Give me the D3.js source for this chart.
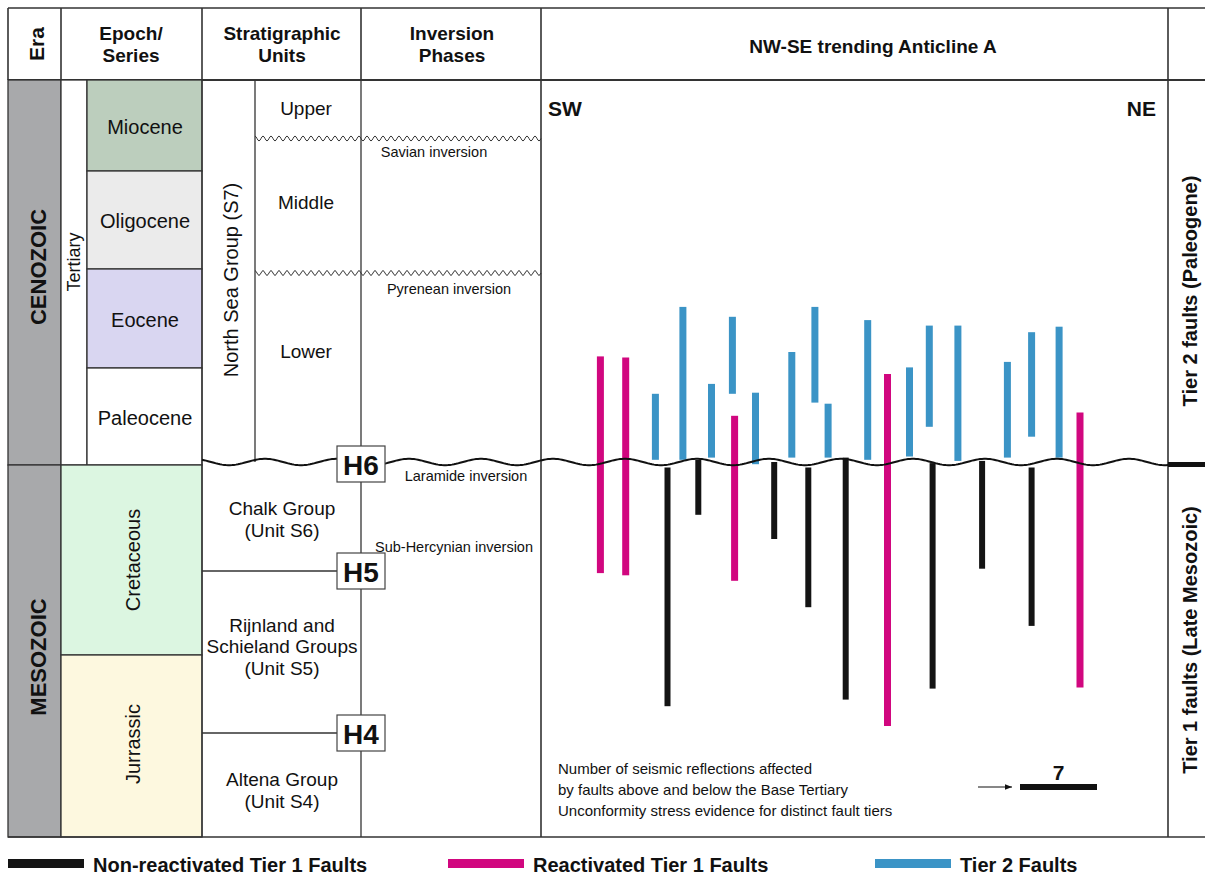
<!DOCTYPE html>
<html>
<head>
<meta charset="utf-8">
<script src="https://cdn.jsdelivr.net/npm/d3@7"></script>
<style>
  body { margin: 0; background: #fff; }
  text { font-family: Arial, "Liberation Sans", sans-serif; fill: #111; }
</style>
</head>
<body>
<div id="chart"></div>
<script>
// fault positions along the section (trace units) and extent in seismic
// reflections above (+) / below (-) the Base Tertiary Unconformity
var reactivated_faults = [
    { pos: 5.4, top: 9.6, base: -10.1 },
    { pos: 7.7, top: 9.5, base: -10.3 },
    { pos: 17.6, top: 4.2, base: -10.8 },
    { pos: 31.5, top: 8.0, base: -24.0 },
    { pos: 49.0, top: 4.5, base: -20.5 }
];
var tier2_faults = [
    { pos: 10.4, top: 6.2, base: 0.2 },
    { pos: 12.9, top: 14.1, base: 0.2 },
    { pos: 15.5, top: 7.1, base: 0.4 },
    { pos: 17.4, top: 13.2, base: 6.2 },
    { pos: 19.5, top: 6.3, base: -0.2 },
    { pos: 22.8, top: 10.0, base: 0.4 },
    { pos: 24.9, top: 14.1, base: 5.4 },
    { pos: 26.1, top: 5.3, base: 0.4 },
    { pos: 29.7, top: 12.9, base: 0.2 },
    { pos: 33.5, top: 8.6, base: 0.5 },
    { pos: 35.3, top: 12.4, base: 3.2 },
    { pos: 37.9, top: 12.4, base: 0.1 },
    { pos: 42.4, top: 9.1, base: 0.4 },
    { pos: 44.6, top: 11.8, base: 2.3 },
    { pos: 47.1, top: 12.3, base: 0.4 }
];
var nonreactivated_faults = [
    { pos: 11.5, top: -0.5, base: -22.2 },
    { pos: 14.3, top: 0.2, base: -4.8 },
    { pos: 21.2, top: 0.0, base: -7.0 },
    { pos: 24.3, top: -0.5, base: -13.2 },
    { pos: 27.7, top: 0.4, base: -21.6 },
    { pos: 35.6, top: -0.1, base: -20.6 },
    { pos: 40.1, top: 0.1, base: -9.7 },
    { pos: 44.6, top: -0.5, base: -14.9 }
];
var scale_reflections = 7;

var header_labels = [["Epoch/", "Series"], ["Stratigraphic", "Units"], ["Inversion", "Phases"]];
var eras = ["CENOZOIC", "MESOZOIC"];
var epochs = ["Miocene", "Oligocene", "Eocene", "Paleocene"];
var periods = ["Cretaceous", "Jurrassic"];
var north_sea_subunits = ["Upper", "Middle", "Lower"];
var mesozoic_units = [["Chalk Group", "(Unit S6)"], ["Rijnland and", "Schieland Groups", "(Unit S5)"], ["Altena Group", "(Unit S4)"]];
var horizons = ["H6", "H5", "H4"];
var inversion_phases = ["Savian inversion", "Pyrenean inversion", "Laramide inversion", "Sub-Hercynian inversion"];
var tier_labels = ["Tier 2 faults (Paleogene)", "Tier 1 faults (Late Mesozoic)"];
var legend_labels = ["Non-reactivated Tier 1 Faults", "Reactivated Tier 1 Faults", "Tier 2 Faults"];
var note_lines = ["Number of seismic reflections affected",
    "by faults above and below the Base Tertiary",
    "Unconformity stress evidence for distinct fault tiers"];

var colours = { black: "#141414", pink: "#d1077f", blue: "#3b94c6" };

function fault_chart() {
    var width = 1205, height = 879;
    var svg = d3.select("#chart").append("svg")
        .attr("width", width)
        .attr("height", height);

    var top = 8, head = 80, bottom = 837, unconf = 462, boundary = 465;
    var cols = [8, 61, 202, 361, 541, 1168, 1205];

    // section scales: 1 reflection = 11 px
    var x = d3.scaleLinear().domain([0, 57]).range([541, 1168]);
    var y = d3.scaleLinear().domain([0, 1]).range([unconf, unconf - 11]);

    function rect(x0, y0, x1, y1, fill) {
        svg.append("rect").attr("x", x0).attr("y", y0)
            .attr("width", x1 - x0).attr("height", y1 - y0)
            .style("fill", fill).style("stroke", "#333").style("stroke-width", 1.3);
    }
    function line(x0, y0, x1, y1, w) {
        svg.append("line").attr("x1", x0).attr("y1", y0).attr("x2", x1).attr("y2", y1)
            .style("stroke", "#333").style("stroke-width", w || 1.3);
    }
    function label(tx, ty, str, size, opts) {
        opts = opts || {};
        var t = svg.append("text")
            .attr("x", tx).attr("y", ty)
            .attr("text-anchor", opts.anchor || "middle")
            .attr("dominant-baseline", "central")
            .style("font-size", size + "px")
            .style("font-weight", opts.bold ? "bold" : "normal")
            .text(str);
        if (opts.rotate) t.attr("transform", "rotate(-90," + tx + "," + ty + ")");
        return t;
    }

    // header row
    line(cols[0], top, width, top, 1.6);
    line(cols[0], head, width, head, 1.8);
    for (var i = 0; i < 6; i++) line(cols[i], top, cols[i], head, 1.6);
    label(36, 44, "Era", 21, { bold: true, rotate: true });
    header_labels.forEach(function (l, i) {
        var cx = [131, 282, 452][i];
        label(cx, 33, l[0], 19, { bold: true });
        label(cx, 55, l[1], 19, { bold: true });
    });
    label(873, 46, "NW-SE trending Anticline A", 19, { bold: true });

    // era column
    rect(cols[0], head, cols[1], boundary, "#a8a9ab");
    rect(cols[0], boundary, cols[1], bottom, "#a8a9ab");
    label(38, 267, eras[0], 22, { bold: true, rotate: true });
    label(38, 657, eras[1], 22, { bold: true, rotate: true });

    // epoch column
    var epoch_fill = ["#bccebd", "#ebebeb", "#d9d6f1", "#ffffff"];
    var epoch_y = [head, 171, 269, 368, boundary];
    rect(cols[1], head, 87, boundary, "#fff");
    label(74, 262, "Tertiary", 18, { rotate: true });
    epochs.forEach(function (e, i) {
        rect(87, epoch_y[i], cols[2], epoch_y[i + 1], epoch_fill[i]);
        label(145, (epoch_y[i] + epoch_y[i + 1]) / 2 + 1, e, 20);
    });
    rect(cols[1], boundary, cols[2], 655, "#dcf6e1");
    rect(cols[1], 655, cols[2], bottom, "#fdf8df");
    label(133, 560, periods[0], 20, { rotate: true });
    label(133, 744, periods[1], 20, { rotate: true });

    // stratigraphic units column
    line(cols[2], head, cols[2], bottom);
    line(255, head, 255, unconf);
    line(cols[3], head, cols[3], bottom);
    line(cols[4], head, cols[4], bottom, 1.6);
    line(cols[5], head, cols[5], bottom, 1.6);
    line(cols[0], bottom, width, bottom, 1.6);
    label(231, 280, "North Sea Group (S7)", 20, { rotate: true });
    [108, 202, 351].forEach(function (cy, i) {
        label(306, cy, north_sea_subunits[i], 19);
    });
    var unit_y = [[508, 530], [625, 646, 668], [779, 801]];
    mesozoic_units.forEach(function (u, i) {
        u.forEach(function (s, j) { label(282, unit_y[i][j], s, 19); });
    });

    // thin wavy unconformities (Savian, Pyrenean)
    [138.5, 273].forEach(function (wy) {
        var pts = d3.range(255, 541.5, 1).map(function (px) {
            return [px, wy - 2.4 * Math.cos(2 * Math.PI * (px - 255) / 8)];
        });
        svg.append("path").attr("d", d3.line()(pts))
            .style("fill", "none").style("stroke", "#333").style("stroke-width", 1);
    });
    label(434, 152, inversion_phases[0], 14.5);
    label(449, 289, inversion_phases[1], 14.5);
    label(466, 476, inversion_phases[2], 14.5);
    label(454, 547, inversion_phases[3], 14.5);

    // horizon lines
    line(cols[2], 571, 337, 571);
    line(cols[2], 733, 337, 733);

    // faults
    function draw_faults(data, colour, w) {
        svg.selectAll(null)
            .data(data)
            .enter()
            .append("rect")
            .attr("x", function (d) { return x(d.pos) - w / 2; })
            .attr("y", function (d) { return y(d.top); })
            .attr("width", w)
            .attr("height", function (d) { return y(d.base) - y(d.top); })
            .style("fill", colour);
    }
    draw_faults(nonreactivated_faults, colours.black, 6);
    draw_faults(tier2_faults, colours.blue, 7);
    draw_faults(reactivated_faults, colours.pink, 7);

    // Base Tertiary Unconformity
    var wave_pts = d3.range(202, 1169, 2).map(function (px) {
        return [px, unconf - 3.2 * Math.cos(2 * Math.PI * (px - 553) / 72)];
    });
    svg.append("path").attr("d", d3.line()(wave_pts))
        .style("fill", "none").style("stroke", "#111").style("stroke-width", 2);
    svg.append("rect").attr("x", cols[5]).attr("y", unconf)
        .attr("width", width - cols[5]).attr("height", 5).style("fill", "#111");

    // horizon boxes
    [464, 571, 733].forEach(function (cy, i) {
        svg.append("rect").attr("x", 337).attr("y", cy - 18)
            .attr("width", 48).attr("height", 36)
            .style("fill", "#fff").style("stroke", "#444").style("stroke-width", 1.2);
        label(361, cy + 1, horizons[i], 28, { bold: true });
    });

    // section labels
    label(548, 108, "SW", 21, { bold: true, anchor: "start" });
    label(1156, 108, "NE", 21, { bold: true, anchor: "end" });
    label(1190, 291, tier_labels[0], 20, { bold: true, rotate: true });
    label(1190, 640, tier_labels[1], 20, { bold: true, rotate: true });

    // reflections note and scale bar
    note_lines.forEach(function (s, i) {
        label(558, 768 + i * 21, s, 15, { anchor: "start" });
    });
    var defs = svg.append("defs");
    defs.append("marker").attr("id", "arrow")
        .attr("viewBox", "0 0 10 10").attr("refX", 10).attr("refY", 5)
        .attr("markerWidth", 8).attr("markerHeight", 7).attr("orient", "auto")
        .attr("markerUnits", "userSpaceOnUse")
        .append("path").attr("d", "M0,1L10,5L0,9Z").style("fill", "#111");
    svg.append("line").attr("x1", 978).attr("y1", 787).attr("x2", 1012).attr("y2", 787)
        .style("stroke", "#111").style("stroke-width", 1.2).attr("marker-end", "url(#arrow)");
    var bar_len = y(0) - y(scale_reflections);
    svg.append("rect").attr("x", 1020).attr("y", 784)
        .attr("width", bar_len).attr("height", 6).style("fill", "#111");
    label(1020 + bar_len / 2, 772, String(scale_reflections), 21, { bold: true });

    // legend
    var legend_x = [8, 448, 875];
    var legend_c = [colours.black, colours.pink, colours.blue];
    legend_labels.forEach(function (s, i) {
        svg.append("rect").attr("x", legend_x[i]).attr("y", 859)
            .attr("width", 76).attr("height", 9).style("fill", legend_c[i]);
        label(legend_x[i] + 85, 865, s, 20, { bold: true, anchor: "start" });
    });
}

fault_chart();
</script>
</body>
</html>
